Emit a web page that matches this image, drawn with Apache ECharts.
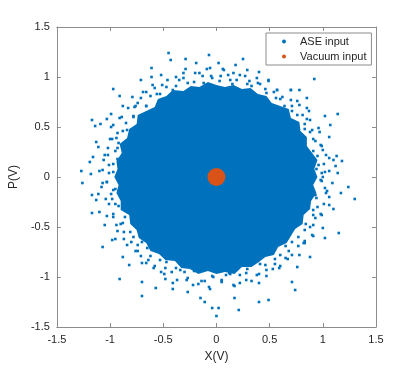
<!DOCTYPE html>
<html>
<head>
<meta charset="utf-8">
<script src="https://cdn.jsdelivr.net/npm/echarts@6/dist/echarts.min.js"></script>
<style>
  html, body { margin: 0; padding: 0; background: #fff; }
  #chart { width: 415px; height: 368px; }
</style>
</head>
<body>
<div id="chart"></div>
<script>
// axis ticks
var xTicks = [-1.5, -1, -0.5, 0, 0.5, 1, 1.5];
var yTicks = [-1.5, -1, -0.5, 0, 0.5, 1, 1.5];

// edge of the solid part of the ASE cloud (X, P)
var aseCore = [
  [0.95, 0], [0.92, 0.08], [0.95, 0.17], [0.90, 0.24], [0.85, 0.31], [0.85, 0.40],
  [0.79, 0.46], [0.78, 0.55], [0.70, 0.59], [0.68, 0.68], [0.60, 0.71], [0.52, 0.74],
  [0.47, 0.81], [0.39, 0.83], [0.32, 0.89], [0.24, 0.88], [0.16, 0.92], [0.08, 0.90],
  [0, 0.92], [-0.08, 0.95], [-0.16, 0.90], [-0.24, 0.91], [-0.31, 0.86], [-0.41, 0.87],
  [-0.47, 0.81], [-0.55, 0.78], [-0.58, 0.70], [-0.66, 0.66], [-0.74, 0.62], [-0.75, 0.53],
  [-0.82, 0.48], [-0.84, 0.39], [-0.91, 0.33], [-0.89, 0.24], [-0.94, 0.16], [-0.93, 0.08],
  [-0.96, 0], [-0.92, -0.08], [-0.94, -0.16], [-0.90, -0.24], [-0.90, -0.33], [-0.82, -0.38],
  [-0.81, -0.47], [-0.75, -0.53], [-0.73, -0.61], [-0.66, -0.66], [-0.62, -0.74], [-0.54, -0.77],
  [-0.48, -0.83], [-0.39, -0.84], [-0.33, -0.91], [-0.25, -0.92], [-0.17, -0.97], [-0.08, -0.94],
  [0, -0.97], [0.08, -0.95], [0.17, -0.97], [0.24, -0.90], [0.33, -0.90], [0.40, -0.85],
  [0.46, -0.80], [0.54, -0.78], [0.58, -0.70], [0.66, -0.66], [0.70, -0.59], [0.74, -0.52],
  [0.81, -0.47], [0.82, -0.38], [0.88, -0.32], [0.89, -0.24], [0.94, -0.16], [0.91, -0.08]
];

// points hugging the solid edge
var aseEdge = [
  [0.99, 0.04], [1.01, 0.13], [0.95, 0.21], [0.99, 0.31], [0.91, 0.38], [0.90, 0.47],
  [0.83, 0.53], [0.81, 0.62], [0.71, 0.66], [0.70, 0.77], [0.60, 0.78], [0.54, 0.85],
  [0.46, 0.88], [0.39, 0.94], [0.29, 0.93], [0.22, 1.02], [0.13, 0.97], [0.04, 1.01],
  [-0.04, 0.99], [-0.13, 1.01], [-0.21, 0.95], [-0.31, 0.99], [-0.38, 0.91], [-0.47, 0.90],
  [-0.53, 0.83], [-0.62, 0.81], [-0.66, 0.71], [-0.77, 0.70], [-0.78, 0.60], [-0.85, 0.54],
  [-0.88, 0.46], [-0.94, 0.39], [-0.93, 0.29], [-1.02, 0.22], [-0.97, 0.13], [-1.01, 0.04],
  [-1.03, -0.05], [-0.97, -0.13], [-0.98, -0.22], [-0.92, -0.29], [-0.97, -0.40], [-0.88, -0.46],
  [-0.87, -0.55], [-0.78, -0.60], [-0.74, -0.68], [-0.65, -0.71], [-0.64, -0.83], [-0.53, -0.83],
  [-0.48, -0.91], [-0.38, -0.91], [-0.30, -0.95], [-0.21, -0.94], [-0.14, -1.04], [-0.04, -0.99],
  [0.05, -1.03], [0.13, -0.97], [0.22, -0.98], [0.29, -0.92], [0.40, -0.97], [0.46, -0.88],
  [0.55, -0.87], [0.60, -0.78], [0.68, -0.74], [0.71, -0.65], [0.83, -0.64], [0.83, -0.53],
  [0.91, -0.48], [0.91, -0.38], [0.95, -0.30], [0.94, -0.21], [1.04, -0.14], [0.99, -0.04]
];

// ragged fringe further out
var aseFringe = [
  [1.02, 0.05], [0.96, 0.12], [1.03, 0.22], [0.91, 0.26], [0.93, 0.36], [0.97, 0.45],
  [0.83, 0.48], [0.85, 0.58], [0.76, 0.62], [0.78, 0.72], [0.64, 0.71], [0.62, 0.80],
  [0.57, 0.87], [0.47, 0.84], [0.41, 0.93], [0.33, 0.91], [0.27, 1.01], [0.19, 0.97],
  [0.11, 1.02], [0.03, 0.96], [0.94, 0.08], [1.06, 0.19], [0.98, 0.32], [0.88, 0.45],
  [0.87, 0.66], [0.71, 0.71], [0.56, 0.79], [0.49, 0.96], [0.31, 0.96], [0.15, 0.93],
  [0.07, 1.07],
  [-0.05, 1.01], [-0.12, 0.94], [-0.20, 1.04], [-0.27, 0.94], [-0.35, 0.97], [-0.41, 0.87],
  [-0.51, 0.92], [-0.56, 0.83], [-0.66, 0.85], [-0.66, 0.71], [-0.76, 0.71], [-0.78, 0.61],
  [-0.89, 0.60], [-0.84, 0.47], [-0.93, 0.44], [-0.92, 0.34], [-1.02, 0.29], [-0.93, 0.18],
  [-1.01, 0.12], [-0.97, 0.05], [-0.09, 1.08], [-0.31, 1.04], [-0.46, 0.97], [-0.60, 0.92],
  [-0.71, 0.79], [-0.83, 0.69], [-0.97, 0.52], [-1.00, 0.38], [-1.05, 0.22], [-0.95, 0.26],
  [-1.07, 0.07],
  [-1.03, -0.05], [-0.95, -0.12], [-1.04, -0.22], [-0.95, -0.27], [-0.97, -0.37], [-0.86, -0.40],
  [-0.93, -0.54], [-0.81, -0.55], [-0.80, -0.65], [-0.70, -0.65], [-0.71, -0.79], [-0.62, -0.79],
  [-0.59, -0.91], [-0.47, -0.85], [-0.42, -0.95], [-0.34, -0.93], [-0.28, -1.03], [-0.18, -0.94],
  [-0.11, -1.04], [-0.03, -1.00], [-0.99, -0.17], [-1.08, -0.10], [-0.90, -0.47], [-0.87, -0.62],
  [-0.76, -0.74], [-0.66, -0.86], [-0.52, -0.95], [-0.37, -1.03], [-0.22, -1.08], [-0.07, -1.10],
  [-0.48, -1.02],
  [0.05, -1.04], [0.12, -0.96], [0.22, -1.06], [0.28, -0.96], [0.38, -0.98], [0.41, -0.87],
  [0.53, -0.92], [0.55, -0.82], [0.65, -0.81], [0.65, -0.69], [0.77, -0.69], [0.77, -0.60],
  [0.90, -0.58], [0.84, -0.47], [0.93, -0.41], [0.91, -0.33], [1.01, -0.27], [0.93, -0.18],
  [1.02, -0.11], [0.98, -0.03], [0.16, -1.08], [0.33, -1.04], [0.47, -0.99], [0.60, -0.89],
  [0.71, -0.78], [0.83, -0.66], [0.88, -0.50], [0.98, -0.37], [1.06, -0.20], [1.00, 0.00],
  [0.09, -0.98]
];

// sparser band beyond the fringe
var aseOuter = [
  [1.06, 0.06], [1.10, 0.17], [1.00, 0.27], [1.06, 0.40], [0.96, 0.49], [0.88, 0.57],
  [0.85, 0.69], [0.76, 0.76], [0.70, 0.87], [0.57, 0.87], [0.49, 0.97], [0.38, 0.99],
  [0.29, 1.07], [0.16, 1.04], [0.06, 1.08],
  [-0.06, 1.09], [-0.16, 1.04], [-0.29, 1.08], [-0.38, 1.00], [-0.52, 1.02], [-0.58, 0.89],
  [-0.69, 0.85], [-0.74, 0.74], [-0.88, 0.71], [-0.91, 0.59], [-0.99, 0.50], [-0.98, 0.38],
  [-1.11, 0.30], [-1.06, 0.17], [-1.10, 0.06],
  [-1.07, -0.06], [-1.11, -0.17], [-1.01, -0.27], [-1.03, -0.39], [-0.94, -0.48], [-0.95, -0.62],
  [-0.84, -0.68], [-0.74, -0.74], [-0.70, -0.86], [-0.58, -0.89], [-0.49, -0.97], [-0.41, -1.06],
  [-0.27, -1.01], [-0.17, -1.07], [-0.06, -1.12],
  [0.05, -1.05], [0.17, -1.09], [0.28, -1.03], [0.40, -1.06], [0.47, -0.93], [0.59, -0.91],
  [0.67, -0.82], [0.78, -0.78], [0.82, -0.66], [0.91, -0.59], [1.00, -0.51], [0.99, -0.38],
  [1.06, -0.28], [1.03, -0.16], [1.09, -0.06]
];

// lone points further out
var aseOutliers = [
  [-0.45, 1.24], [-0.43, 1.17], [-0.29, 1.18], [-0.19, 1.14], [-0.07, 1.22], [-0.61, 1.09],
  [-0.61, 1.00], [-0.71, 0.97], [-0.97, 0.88], [-0.91, 0.81], [-0.79, 0.80], [-1.17, 0.57],
  [-1.14, 0.51], [-1.09, 0.53], [-1.03, 0.58], [-0.99, 0.63], [-1.13, 0.35], [-1.16, 0.20],
  [-1.27, 0.06], [-1.19, 0.15], [-1.18, 0.03],
  [0.25, 1.18], [0.02, 1.14], [0.18, 1.12], [0.40, 1.05], [0.92, 0.98], [0.70, 0.87],
  [0.78, 0.87], [0.85, 0.79], [1.14, 0.63], [1.02, 0.61], [1.07, 0.52], [1.13, 0.21],
  [1.18, 0.16], [1.12, 0.11], [1.14, 0.04],
  [1.30, -0.22], [1.24, -0.10], [1.17, -0.16], [1.15, -0.56], [1.10, -0.32], [0.74, -1.13],
  [0.71, -1.05], [0.49, -1.23], [0.40, -1.25], [0.21, -1.33], [0.17, -1.21], [0.00, -1.39],
  [0.02, -1.31], [1.02, -0.61], [0.88, -0.80], [0.76, -0.90],
  [-1.26, -0.06], [-1.17, -0.36], [-1.07, -0.70], [-0.91, -1.02], [-0.70, -1.19], [-0.70, -1.05],
  [-0.57, -1.11], [-0.41, -1.12], [-0.27, -1.15], [-0.15, -1.21], [-0.11, -1.25], [-0.04, -1.31],
  [-0.82, -0.88], [-0.88, -0.80], [-0.98, -0.63], [-1.05, -0.48], [-1.10, -0.35], [-1.13, -0.23],
  [-1.17, -0.18]
];

// vacuum input cloud centre
var vacuumPoints = [[0, 0]];

var blue = "#0072BD";
var orange = "#D95319";
var axisGray = "#8c8c8c";
var textGray = "#262626";
var font = "Liberation Sans, Arial, sans-serif";

var chart = echarts.init(document.getElementById("chart"));

function tickAxis(pos, show) {
  return {
    type: "value",
    position: pos,
    min: -1.5,
    max: 1.5,
    interval: 0.5,
    axisLine: { show: true, onZero: false, lineStyle: { color: axisGray, width: 1 } },
    axisTick: { show: true, inside: true, length: 4, lineStyle: { color: axisGray } },
    axisLabel: { show: show, color: textGray, fontSize: 11, fontFamily: font, margin: 7 },
    splitLine: { show: false }
  };
}

var xBottom = tickAxis("bottom", true);
xBottom.name = "X(V)";
xBottom.nameLocation = "middle";
xBottom.nameGap = 24;
xBottom.nameTextStyle = { color: textGray, fontSize: 12, fontFamily: font };
var xTop = tickAxis("top", false);

var yLeft = tickAxis("left", true);
yLeft.name = "P(V)";
yLeft.nameLocation = "middle";
yLeft.nameGap = 27;
yLeft.nameTextStyle = { color: textGray, fontSize: 12, fontFamily: font };
var yRight = tickAxis("right", false);

chart.setOption({
  animation: false,
  grid: { left: 55, right: 39, top: 27, bottom: 41, containLabel: false },
  xAxis: [xBottom, xTop],
  yAxis: [yLeft, yRight],
  legend: {
    data: [
      { name: "ASE input", icon: "circle" },
      { name: "Vacuum input", icon: "circle" }
    ],
    orient: "vertical",
    left: 266,
    top: 33,
    itemWidth: 4,
    itemHeight: 4,
    itemGap: 4,
    padding: [3, 5, 3, 16],
    borderColor: axisGray,
    borderWidth: 1,
    backgroundColor: "#fff",
    textStyle: { color: textGray, fontSize: 11, fontFamily: font, padding: [0, 0, 0, 9] }
  },
  series: [
    {
      name: "ASE input",
      type: "custom",
      silent: true,
      data: [[0, 0]],
      itemStyle: { color: blue },
      renderItem: function (params, api) {
        var pts = aseCore.map(function (p) { return api.coord(p); });
        return { type: "polygon", shape: { points: pts }, style: { fill: blue } };
      },
      z: 1
    },
    {
      name: "ASE input",
      type: "scatter",
      symbol: "rect",
      symbolSize: 2.6,
      itemStyle: { color: blue, opacity: 1 },
      data: aseEdge.concat(aseFringe, aseOuter, aseOutliers),
      z: 2
    },
    {
      name: "Vacuum input",
      type: "scatter",
      symbol: "circle",
      symbolSize: 18,
      itemStyle: { color: orange, opacity: 1 },
      data: vacuumPoints,
      z: 3
    }
  ]
});
</script>
</body>
</html>
